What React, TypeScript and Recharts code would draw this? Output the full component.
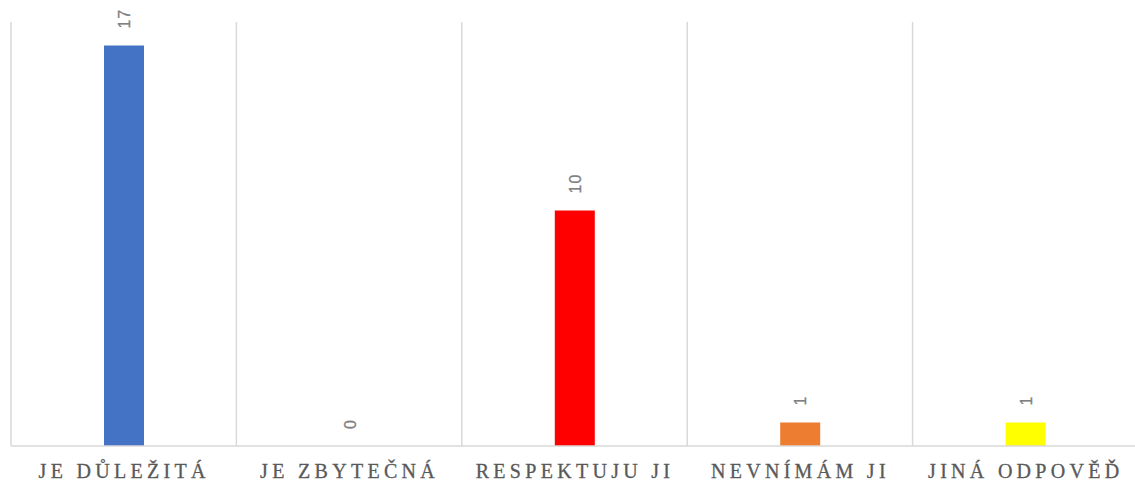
import React from "react";
import { ComposedChart, Bar, Line, XAxis, YAxis, CartesianGrid, Cell, LabelList } from "recharts";

const categories = ["JE DŮLEŽITÁ", "JE ZBYTEČNÁ", "RESPEKTUJU JI", "NEVNÍMÁM JI", "JINÁ ODPOVĚĎ"];
const values = [17, 0, 10, 1, 1];
const colors = ["#4472C4", "#4472C4", "#FF0000", "#ED7D31", "#FFFF00"];
const gridTicks = [0, 1, 2, 3, 4, 5];

const data = categories.map((name, i) => ({ name, value: values[i], g: i + 0.5 }));

const CatTick = (props: any) => {
  const { x, y, payload } = props;
  return (
    <text
      x={x + 0.5}
      y={y + 24}
      textAnchor="middle"
      fill="#595959"
      stroke="#595959"
      strokeWidth={0.3}
      fontFamily="'Liberation Serif', 'DejaVu Serif', serif"
      fontSize={20}
      letterSpacing={4.3}
    >
      {payload.value}
    </text>
  );
};

const ValueLabel = (props: any) => {
  const { x, y, value } = props;
  const cx = Number(x) + 1;
  const ty = Number(y) - 17;
  return (
    <text
      x={cx}
      y={ty}
      transform={`rotate(-90, ${cx}, ${ty})`}
      textAnchor="start"
      dominantBaseline="central"
      fill="#7f7f7f"
      stroke="#7f7f7f"
      strokeWidth={0.3}
      fontFamily="'Liberation Sans', Arial, sans-serif"
      fontSize={16}
      letterSpacing={1}
    >
      {value}
    </text>
  );
};

export default function App() {
  return (
    <div style={{ position: "absolute", left: 0, top: 0, background: "#fff" }}>
      <ComposedChart
        width={1140}
        height={485}
        data={data}
        margin={{ top: 22, right: 2, left: 11, bottom: 0 }}
        barCategoryGap={0}
      >
        <XAxis xAxisId="grid" type="number" dataKey="g" domain={[0, 5]} ticks={gridTicks} hide />
        <XAxis
          xAxisId="cat"
          dataKey="name"
          height={39}
          tickLine={false}
          axisLine={{ stroke: "#d9d9d9", strokeWidth: 1.5 }}
          tick={<CatTick />}
          interval={0}
        />
        <YAxis hide domain={[0, 18]} />
        <CartesianGrid xAxisId="grid" horizontal={false} vertical stroke="#d9d9d9" strokeWidth={1.5} />
        <Bar dataKey="value" xAxisId="cat" barSize={40} isAnimationActive={false}>
          {data.map((d, i) => (
            <Cell key={d.name} fill={colors[i]} />
          ))}
        </Bar>
        <Line
          dataKey="value"
          xAxisId="cat"
          stroke="none"
          dot={false}
          activeDot={false}
          legendType="none"
          isAnimationActive={false}
        >
          <LabelList dataKey="value" content={<ValueLabel />} />
        </Line>
      </ComposedChart>
    </div>
  );
}
